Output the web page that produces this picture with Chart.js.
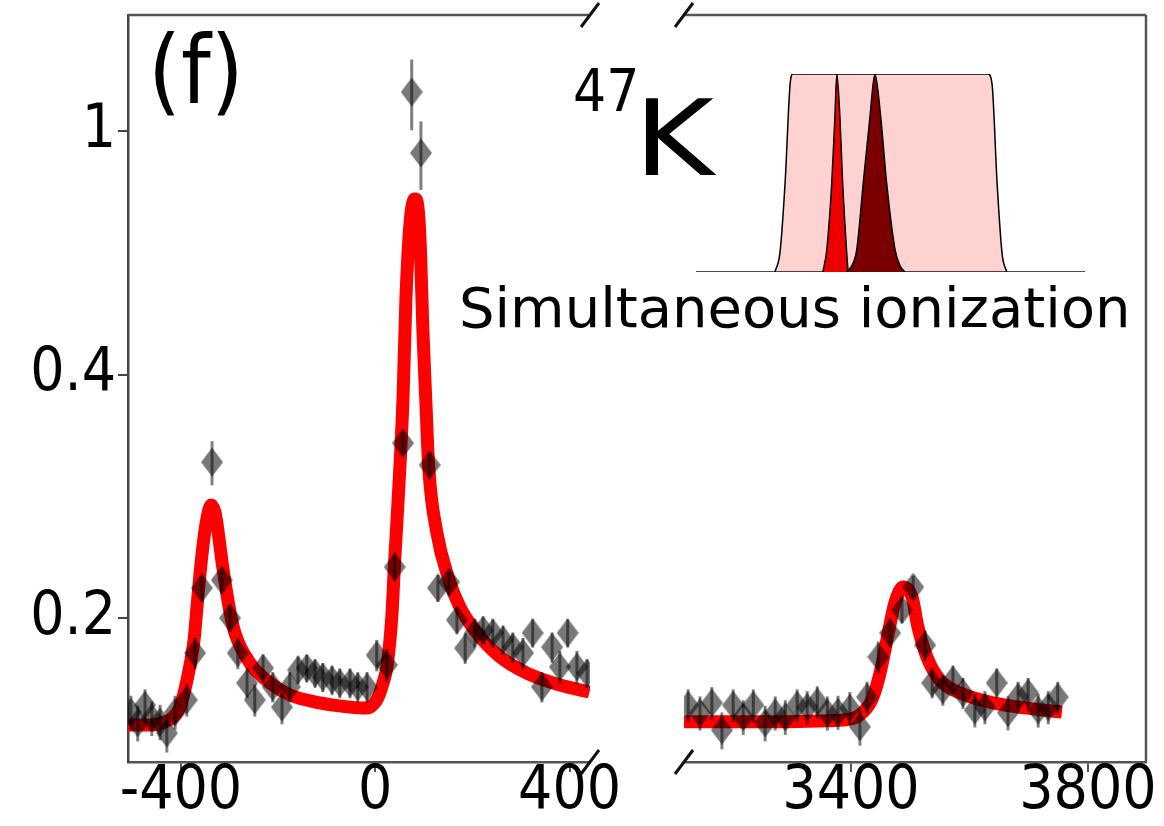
<!DOCTYPE html>
<html>
<head>
<meta charset="utf-8">
<script src="https://cdn.jsdelivr.net/npm/chart.js@4.4.1/dist/chart.umd.min.js"></script>
<style>
  html,body{margin:0;padding:0;background:#fff;}
  #wrap{position:relative;width:1164px;height:826px;overflow:hidden;background:#fff;}
  canvas{position:absolute;}
  .t{position:absolute;white-space:nowrap;color:#000;line-height:1;}
</style>
</head>
<body>
<div id="wrap">
  <canvas id="cL" width="640" height="826" style="left:0;top:0;width:640px;height:826px"></canvas>
  <canvas id="cR" width="564" height="826" style="left:600px;top:0;width:564px;height:826px"></canvas>
  <canvas id="cI" width="397" height="206" style="left:692px;top:70px;width:397px;height:206px"></canvas>
  <div class="t" id="lab" style="left:148px;top:24px;font-family:'DejaVu Sans Condensed','DejaVu Sans';font-size:94px;">(f)</div>
  <div class="t" id="iso" style="left:573px;top:62px;font-family:'DejaVu Sans Condensed','DejaVu Sans';font-size:58px;">47</div>
  <div class="t" id="el" style="left:634px;top:86px;font-family:'DejaVu Sans';font-size:106px;transform:scaleX(1.15);transform-origin:left top;">K</div>
  <div class="t" id="sim" style="left:459px;top:280px;font-family:'DejaVu Sans';font-size:56px;">Simultaneous ionization</div>
</div>
<script>
// ---------------- data ----------------
const yOffset = 0.1;                 // axis is logarithmic in (value - 0.1)
const yTickValues = [0.2, 0.4, 1];
const yTickLabels = ["0.2", "0.4", "1"];
const leftXTicks = [-400, 0, 400];
const leftXTickLabels = ["-400", "0", "400"];
const rightXTicks = [3400, 3800];
const rightXTickLabels = ["3400", "3800"];

// left panel: fit curve
const leftFitX = [-509,-464,-433,-418,-402,-392,-382,-373,-367,-361,-355,-347,-338,-330,-324,-316,-309,-299,-289,-258,-217,-176,-114,-52,-21,-11,5,16,24,34,40,47,57,63,69,75,82,88,93,98,104,110,127,150,174,209,257,312,380,441];
const leftFitY = [0.1617,0.1617,0.1626,0.1637,0.1669,0.1723,0.1802,0.1906,0.2051,0.2213,0.2378,0.2556,0.2665,0.2613,0.2487,0.2299,0.2171,0.2027,0.1935,0.1816,0.1746,0.1707,0.1682,0.1669,0.1666,0.1669,0.1697,0.1746,0.1802,0.2005,0.2299,0.270,0.3674,0.5198,0.6503,0.7357,0.762,0.7357,0.626,0.4666,0.3674,0.2976,0.2467,0.2203,0.2051,0.1935,0.1839,0.1780,0.1739,0.1716];
// left panel: measured points
const leftPtsX = [-503,-489,-474,-460,-443,-429,-412,-388,-371,-357,-336,-316,-299,-283,-264,-248,-231,-211,-192,-176,-159,-141,-124,-108,-89,-73,-52,-36,-17,3,24,40,57,75,94,112,129,152,168,185,205,222,242,263,283,304,324,343,364,380,396,415,436];
const leftPtsY = [0.1654,0.1623,0.1675,0.1637,0.1626,0.1595,0.1654,0.1691,0.1854,0.2145,0.302,0.2187,0.200,0.1854,0.1746,0.1691,0.1798,0.1733,0.1669,0.1733,0.1791,0.1798,0.1780,0.1766,0.1756,0.1746,0.1746,0.1733,0.1733,0.1846,0.1809,0.2259,0.3202,1.173,0.915,0.2994,0.2145,0.2176,0.1991,0.1873,0.1935,0.1947,0.1935,0.1906,0.1877,0.1854,0.1935,0.1733,0.1877,0.1802,0.1935,0.1802,0.1780];
const leftPtsErr = [0.005,0.005,0.005,0.005,0.005,0.005,0.005,0.005,0.006,0.007,0.02,0.007,0.006,0.006,0.005,0.005,0.005,0.005,0.005,0.005,0.005,0.005,0.005,0.005,0.005,0.005,0.005,0.005,0.005,0.006,0.006,0.008,0.012,0.17,0.125,0.012,0.007,0.007,0.006,0.006,0.006,0.006,0.006,0.006,0.006,0.006,0.006,0.005,0.006,0.006,0.006,0.006,0.005];

// right panel: fit curve
const rightFitX = [3116,3246,3387,3415,3435,3449,3463,3474,3488,3503,3513,3528,3550,3584,3640,3697,3756];
const rightFitY = [0.1626,0.1626,0.1631,0.1646,0.1691,0.1780,0.1935,0.2070,0.2150,0.2099,0.1960,0.1839,0.1756,0.1713,0.1682,0.1666,0.1654];
// right panel: measured points
const rightPtsX = [3125,3145,3165,3182,3201,3218,3235,3255,3272,3289,3309,3326,3343,3360,3378,3398,3415,3427,3446,3466,3486,3505,3525,3537,3555,3572,3589,3609,3626,3646,3665,3682,3699,3716,3733,3749];
const rightPtsY = [0.1675,0.1652,0.1682,0.1603,0.1675,0.1640,0.1675,0.1623,0.1652,0.1640,0.1675,0.1669,0.1685,0.1652,0.1654,0.1666,0.1612,0.1700,0.1839,0.1935,0.2037,0.2150,0.1885,0.1746,0.1723,0.1756,0.1713,0.1660,0.1669,0.1746,0.1652,0.1700,0.1713,0.1660,0.1669,0.1700];
const rightPtsErr = [0.005,0.005,0.005,0.005,0.005,0.005,0.005,0.005,0.005,0.005,0.005,0.005,0.005,0.005,0.005,0.005,0.005,0.005,0.006,0.006,0.006,0.006,0.006,0.005,0.005,0.005,0.005,0.005,0.005,0.005,0.005,0.005,0.005,0.005,0.005,0.005];

// inset schematic (arbitrary units)
const insetBaseX = [0, 100];
const insetBaseY = [0, 0];
const insetBandX = [20.3,21.6,22.9,24.2,24.9,75.1,76.1,77.4,78.7,79.9];
const insetBandY = [0,0.1,0.45,0.95,1,1,0.95,0.45,0.09,0];
const insetNarrowX = [32.6,33.6,34.9,35.7,36.2,37.0,37.7,38.7,39.1];
const insetNarrowY = [0,0.11,0.45,0.78,1,0.78,0.45,0.11,0];
const insetBroadX = [38.7,40,41.3,43.0,44.7,46.0,47.5,49.0,51.2,52.5,53.7];
const insetBroadY = [0,0.03,0.11,0.45,0.78,1,0.78,0.45,0.11,0.03,0];

// ---------------- helpers ----------------
const zip = (xs, ys, off) => xs.map((x, i) => ({x: x, y: ys[i] - (off || 0)}));
const FONT = "'DejaVu Sans Condensed', 'DejaVu Sans'";
const TICK_SIZE = 60;
const Y_MIN = 0.05222, Y_MAX = 1.519;   // (value - offset) limits

function makeDiamond(w, h, color) {
  const c = document.createElement('canvas');
  c.width = w; c.height = h;
  const g = c.getContext('2d');
  g.fillStyle = color;
  g.beginPath();
  g.moveTo(w / 2, 0); g.lineTo(w, h / 2); g.lineTo(w / 2, h); g.lineTo(0, h / 2);
  g.closePath(); g.fill();
  return c;
}
const diamond = makeDiamond(22, 29, 'rgba(0,0,0,0.53)');

const errorBarPlugin = {
  id: 'errbars',
  afterDatasetsDraw(chart) {
    const ctx = chart.ctx, a = chart.chartArea;
    const xs = chart.scales.x, ys = chart.scales.y;
    ctx.save();
    ctx.beginPath(); ctx.rect(a.left, a.top, a.right - a.left, a.bottom - a.top); ctx.clip();
    ctx.strokeStyle = 'rgba(0,0,0,0.5)';
    ctx.lineWidth = 3;
    chart.data.datasets.forEach(ds => {
      if (!ds.errors) return;
      ds.data.forEach((p, i) => {
        const e = ds.errors[i];
        const x = xs.getPixelForValue(p.x);
        const y1 = ys.getPixelForValue(p.y - e);
        const y2 = ys.getPixelForValue(p.y + e);
        ctx.beginPath(); ctx.moveTo(x, y1); ctx.lineTo(x, y2); ctx.stroke();
      });
    });
    ctx.restore();
  }
};

const framePlugin = {
  id: 'frame',
  afterDraw(chart, args, opts) {
    const ctx = chart.ctx, a = chart.chartArea;
    ctx.save();
    ctx.strokeStyle = '#555';
    ctx.lineWidth = 2.5;
    ctx.beginPath();
    ctx.moveTo(a.left, a.top); ctx.lineTo(a.right, a.top);
    if (opts.rightSpine) { ctx.moveTo(a.right, a.top); ctx.lineTo(a.right, a.bottom); }
    ctx.stroke();
    const bx = opts.breakSide === 'right' ? a.right : a.left;
    ctx.strokeStyle = '#111';
    ctx.lineWidth = 3;
    [a.top, a.bottom].forEach(y => {
      ctx.beginPath(); ctx.moveTo(bx - 9, y + 12); ctx.lineTo(bx + 9, y - 12); ctx.stroke();
    });
    ctx.restore();
  }
};

function yScale(show) {
  return {
    type: 'logarithmic',
    display: show,
    min: Y_MIN, max: Y_MAX,
    bounds: 'data',
    afterBuildTicks: s => { s.ticks = yTickValues.map(v => ({value: v - yOffset})); },
    afterFit: s => { if (show) s.width = 128; s.paddingTop = 0; s.paddingBottom = 0; },
    ticks: {
      autoSkip: false,
      callback: (v, i) => yTickLabels[i],
      font: {family: FONT, size: TICK_SIZE},
      color: '#000',
      padding: 2
    },
    grid: {display: true, drawOnChartArea: false, drawTicks: true, tickLength: 10, color: '#444', lineWidth: 2},
    border: {display: show, color: '#444', width: 2.5}
  };
}

function xScale(min, max, ticks, labels) {
  return {
    type: 'linear',
    min: min, max: max,
    bounds: 'data',
    afterBuildTicks: s => { s.ticks = ticks.map(v => ({value: v})); },
    afterFit: s => { s.height = 64; s.paddingLeft = 0; s.paddingRight = 0; },
    ticks: {
      autoSkip: false,
      maxRotation: 0,
      callback: (v, i) => labels[i],
      font: {family: FONT, size: TICK_SIZE},
      color: '#000',
      padding: -16
    },
    grid: {display: true, drawOnChartArea: false, drawTicks: true, tickLength: 10, color: '#555', lineWidth: 2},
    border: {display: true, color: '#555', width: 2.5}
  };
}

function panel(canvasId, fitX, fitY, ptsX, ptsY, ptsErr, xmin, xmax, xt, xl, showY, padding, frameOpts) {
  return new Chart(document.getElementById(canvasId), {
    type: 'line',
    data: {
      datasets: [
        {
          type: 'scatter',
          data: zip(ptsX, ptsY, yOffset),
          errors: ptsErr,
          pointStyle: diamond,
          pointRadius: 11,
          showLine: false,
          order: 0
        },
        {
          type: 'line',
          data: zip(fitX, fitY, yOffset),
          borderColor: '#ff0000',
          borderWidth: 13,
          pointRadius: 0,
          cubicInterpolationMode: 'monotone',
          fill: false,
          order: 1
        }
      ]
    },
    options: {
      responsive: false,
      devicePixelRatio: 1,
      animation: false,
      events: [],
      layout: {padding: padding},
      plugins: {legend: {display: false}, tooltip: {enabled: false}, frame: frameOpts},
      scales: {x: xScale(xmin, xmax, xt, xl), y: yScale(showY)}
    },
    plugins: [errorBarPlugin, framePlugin]
  });
}

panel('cL', leftFitX, leftFitY, leftPtsX, leftPtsY, leftPtsErr, -509, 442, leftXTicks, leftXTickLabels, true,
      {top: 15, right: 50, left: 0, bottom: 0}, {rightSpine: false, breakSide: 'right'});
panel('cR', rightFitX, rightFitY, rightPtsX, rightPtsY, rightPtsErr, 3118, 3898, rightXTicks, rightXTickLabels, false,
      {top: 15, right: 18, left: 84, bottom: 0}, {rightSpine: true, breakSide: 'left'});

// inset schematic
new Chart(document.getElementById('cI'), {
  type: 'line',
  data: {
    datasets: [
      {data: zip(insetBroadX, insetBroadY), borderColor: '#000', borderWidth: 1.5, backgroundColor: 'rgb(122,0,0)', fill: 'origin', pointRadius: 0, cubicInterpolationMode: 'monotone', order: 1},
      {data: zip(insetNarrowX, insetNarrowY), borderColor: '#000', borderWidth: 1.5, backgroundColor: 'rgb(236,0,0)', fill: 'origin', pointRadius: 0, cubicInterpolationMode: 'monotone', order: 2},
      {data: zip(insetBaseX, insetBaseY), borderColor: '#111', borderWidth: 1.5, fill: false, pointRadius: 0, order: 3},
      {data: zip(insetBandX, insetBandY), borderColor: '#000', borderWidth: 1.5, backgroundColor: 'rgb(255,210,210)', fill: 'origin', pointRadius: 0, cubicInterpolationMode: 'monotone', order: 4}
    ]
  },
  options: {
    responsive: false,
    devicePixelRatio: 1,
    animation: false,
    events: [],
    layout: {padding: 4},
    plugins: {legend: {display: false}, tooltip: {enabled: false}},
    scales: {
      x: {type: 'linear', display: false, min: 0, max: 100},
      y: {type: 'linear', display: false, min: 0, max: 1}
    }
  }
});
</script>
</body>
</html>
